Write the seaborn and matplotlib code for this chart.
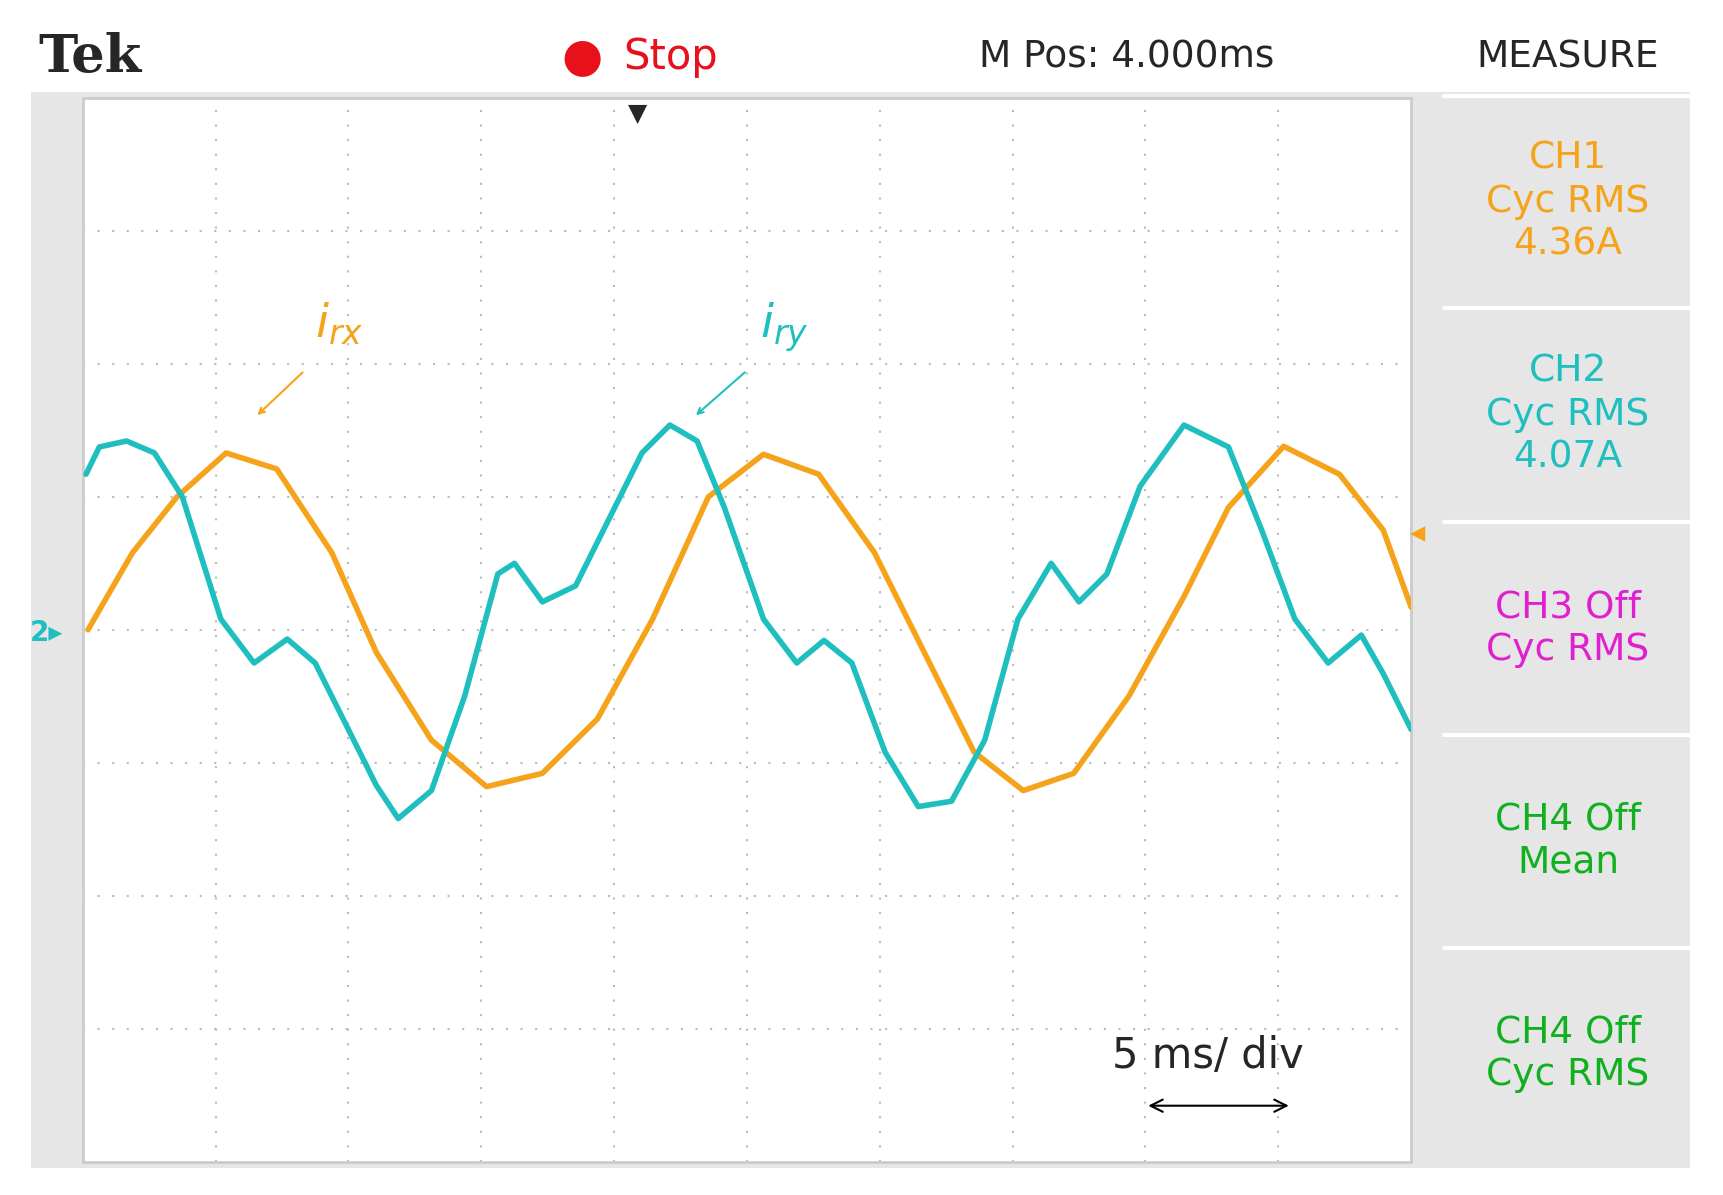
import matplotlib
matplotlib.use("Agg")
import matplotlib.pyplot as plt
import seaborn as sns
import pandas as pd

irx_t = [0.04,0.375,0.71,1.08,1.46,1.875,2.21,2.625,3.04,3.46,3.875,4.29,4.71,5.125,5.54,5.96,6.29,6.71,7.08,7.46,7.875,8.29,8.625,9.04,9.46,9.79,10.0]
irx_v = [0,0.58,1.0,1.33,1.21,0.58,-0.17,-0.83,-1.18,-1.08,-0.67,0.08,1.0,1.32,1.17,0.58,-0.08,-0.92,-1.21,-1.08,-0.5,0.25,0.92,1.38,1.17,0.75,0.17]
iry_t = [0.025,0.125,0.33,0.54,0.75,1.04,1.29,1.54,1.75,1.96,2.21,2.375,2.625,2.875,3.125,3.25,3.46,3.71,3.96,4.21,4.42,4.625,4.83,5.125,5.375,5.58,5.79,6.04,6.29,6.54,6.79,7.04,7.29,7.5,7.71,7.96,8.29,8.625,8.875,9.125,9.375,9.625,9.79,10.0]
iry_v = [1.17,1.375,1.42,1.33,1.0,0.08,-0.25,-0.07,-0.25,-0.67,-1.17,-1.42,-1.21,-0.5,0.42,0.5,0.21,0.33,0.83,1.33,1.54,1.42,0.92,0.08,-0.25,-0.08,-0.25,-0.92,-1.33,-1.29,-0.83,0.08,0.5,0.21,0.42,1.08,1.54,1.375,0.75,0.08,-0.25,-0.04,-0.33,-0.75]

ORANGE = "#f5a31a"
CYAN = "#1fbfbf"

sns.set_style("white")
fig = plt.figure(figsize=(17.23, 11.95), dpi=100)
bg = fig.add_axes([0.018, 0.023, 0.963, 0.90], zorder=0)
bg.set_facecolor("#e6e6e6")
bg.set_xticks([]); bg.set_yticks([])
for s in bg.spines.values():
    s.set_visible(False)

ax = fig.add_axes([0.048, 0.028, 0.771, 0.89], zorder=2)
ax.set_facecolor("white")
ax.set_xlim(0, 10)
ax.set_ylim(-4, 4)
for x in range(1, 10):
    ax.axvline(x, color="#bbbbbb", ls=(0, (1, 6)), lw=1.5, zorder=1)
for y in range(-3, 4):
    ax.axhline(y, color="#bbbbbb", ls=(0, (1, 6)), lw=1.5, zorder=1)
ax.set_xticks([]); ax.set_yticks([])
for s in ax.spines.values():
    s.set_color("#cccccc"); s.set_linewidth(2)

df1 = pd.DataFrame({"t": irx_t, "v": irx_v})
df2 = pd.DataFrame({"t": iry_t, "v": iry_v})
sns.lineplot(data=df1, x="t", y="v", sort=False, color=ORANGE, lw=4, ax=ax, zorder=3)
sns.lineplot(data=df2, x="t", y="v", sort=False, color=CYAN, lw=4, ax=ax, zorder=4)
ax.set_xlabel(""); ax.set_ylabel("")

ax.text(1.75, 2.2, r"$i_{rx}$", color=ORANGE, fontsize=34)
ax.annotate("", xy=(1.3, 1.6), xytext=(1.67, 1.95),
            arrowprops=dict(arrowstyle="->", color=ORANGE, lw=1.5))
ax.text(5.1, 2.2, r"$i_{ry}$", color=CYAN, fontsize=34)
ax.annotate("", xy=(4.6, 1.6), xytext=(5.0, 1.95),
            arrowprops=dict(arrowstyle="->", color=CYAN, lw=1.5))
ax.text(7.75, -3.3, "5 ms/ div", fontsize=30, ha="left")
ax.annotate("", xy=(8.0, -3.58), xytext=(9.1, -3.58),
            arrowprops=dict(arrowstyle="<->", color="black", lw=1.5, mutation_scale=22))

fig.text(0.022, 0.952, "Tek", fontsize=38, weight="bold", family="DejaVu Serif", va="center")
fig.text(0.338, 0.952, "●", fontsize=34, color="#e8101a", va="center", ha="center")
fig.text(0.362, 0.952, "Stop", fontsize=30, color="#e8101a", va="center")
fig.text(0.568, 0.952, "M Pos: 4.000ms", fontsize=27, va="center")
fig.text(0.910, 0.952, "MEASURE", fontsize=27, va="center", ha="center")
fig.text(0.370, 0.905, "▼", fontsize=18, va="center", ha="center", zorder=5)
fig.text(0.017, 0.47, "2▸", fontsize=20, color=CYAN, va="center", weight="bold", zorder=5)
fig.text(0.818, 0.553, "◂", fontsize=22, color=ORANGE, va="center", zorder=5)

panels = [("CH1\nCyc RMS\n4.36A", ORANGE), ("CH2\nCyc RMS\n4.07A", CYAN),
          ("CH3 Off\nCyc RMS", "#e020d0"), ("CH4 Off\nMean", "#10b020"),
          ("CH4 Off\nCyc RMS", "#10b020")]
tops = [0.92, 0.742, 0.563, 0.385, 0.207]
for (txt, col), top in zip(panels, tops):
    fig.lines.append(plt.Line2D([0.838, 0.981], [top, top], transform=fig.transFigure,
                                color="white", lw=3, zorder=5))
    fig.text(0.910, top - 0.089, txt, fontsize=27, color=col, ha="center", va="center",
             linespacing=1.25, zorder=5)
fig.savefig("out.png", dpi=100, facecolor="white")
